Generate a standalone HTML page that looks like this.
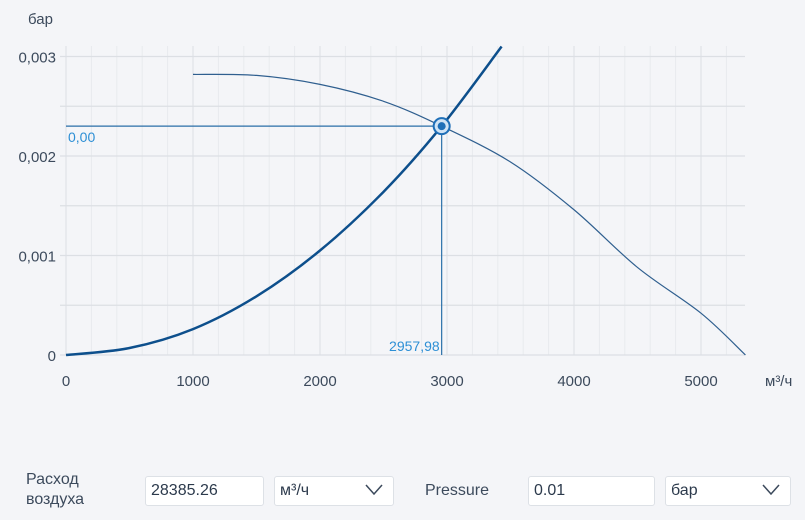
<!DOCTYPE html>
<html><head><meta charset="utf-8"><style>
body{margin:0;background:#f4f5f8;font-family:"Liberation Sans",sans-serif;width:805px;height:520px;overflow:hidden;position:relative}
.lbl{position:absolute;color:#3c4a5c;font-size:16px}
.inp{position:absolute;background:#fff;border:1px solid #dde1e6;border-radius:3px;height:30px;box-sizing:border-box;font-size:16px;color:#2c3a4c;line-height:28px;padding-left:5px}
.chev{position:absolute;right:10px;top:7px}
</style></head><body>
<svg id="chart" width="805" height="460" style="position:absolute;left:0;top:0" font-family="Liberation Sans, sans-serif"></svg>
<div class="lbl" style="left:26px;top:470px;line-height:20px">Расход<br>воздуха</div>
<div class="inp" style="left:145px;top:476px;width:119px">28385.26</div>
<div class="inp" style="left:274px;top:476px;width:120px">м³/ч<svg class="chev" width="18" height="12"><path d="M1 1L9 10L17 1" fill="none" stroke="#3c4a5c" stroke-width="1.5"/></svg></div>
<div class="lbl" style="left:425px;top:482px">Pressure</div>
<div class="inp" style="left:528px;top:476px;width:127px">0.01</div>
<div class="inp" style="left:665px;top:476px;width:126px">бар<svg class="chev" width="18" height="12"><path d="M1 1L9 10L17 1" fill="none" stroke="#3c4a5c" stroke-width="1.5"/></svg></div>
<script>
const xTicks=[0,1000,2000,3000,4000,5000];
const yTicks=[0,0.001,0.002,0.003];
const yTickLabels=["0","0,001","0,002","0,003"];
const fanX=[1000,1500,2000,2500,2958,3500,4000,4500,5000,5350];
const fanY=[0.00282,0.00281,0.00272,0.00255,0.0023,0.00194,0.00146,0.00088,0.00042,0];
const sysX=[0,500,1000,1500,2000,2500,2958,3430];
const sysY=[0,0.00007,0.00026,0.00059,0.00105,0.00164,0.0023,0.0031];
const opX=2957.98, opY=0.0023;
const NS="http://www.w3.org/2000/svg";
const svg=document.getElementById('chart');
const X=v=>66+v*0.127, Y=v=>355-v*99500;
function el(t,a,p){const e=document.createElementNS(NS,t);for(const k in a)e.setAttribute(k,a[k]);(p||svg).appendChild(e);return e;}
for(let v=0;v<=5350;v+=200){const g=el('line',{x1:X(v),x2:X(v),y1:46,y2:355,stroke:v%1000?'#e8eaee':'#dcdfe4','stroke-width':1});
}
for(let v=0;v<=0.0031;v+=0.0005){const g=el('line',{x1:60,x2:745,y1:Y(v),y2:Y(v),stroke:'#dcdfe4','stroke-width':1.2});
}
xTicks.forEach(v=>{const t=el('text',{x:X(v),y:386,'text-anchor':'middle','font-size':15,fill:'#3c4a5c'});t.textContent=v;
});
yTicks.forEach((v,i)=>{const t=el('text',{x:56,y:Y(v)+6,'text-anchor':'end','font-size':15,fill:'#3c4a5c'});t.textContent=yTickLabels[i];
});
let t=el('text',{x:28,y:24,'font-size':15,fill:'#3c4a5c'});t.textContent='бар';
t=el('text',{x:765,y:386,'font-size':15,fill:'#3c4a5c'});t.textContent='м³/ч';
function smooth(xs,ys){const p=xs.map((x,i)=>[X(x),Y(ys[i])]);let d='M'+p[0][0]+' '+p[0][1];
for(let i=0;i<p.length-1;i++){const p0=p[i-1]||p[i],p1=p[i],p2=p[i+1],p3=p[i+2]||p2;
d+=`C${p1[0]+(p2[0]-p0[0])/6} ${p1[1]+(p2[1]-p0[1])/6} ${p2[0]-(p3[0]-p1[0])/6} ${p2[1]-(p3[1]-p1[1])/6} ${p2[0]} ${p2[1]}`;}return d;}
let f=el('path',{d:smooth(fanX,fanY),fill:'none',stroke:'#2f5f8f','stroke-width':1.2});
let s=el('path',{d:smooth(sysX,sysY),fill:'none',stroke:'#0d4f8c','stroke-width':2.5});
let h=el('line',{x1:X(0),x2:X(opX),y1:Y(opY),y2:Y(opY),stroke:'#2a6fa8','stroke-width':1.2});
let vl=el('line',{x1:X(opX),x2:X(opX),y1:Y(opY),y2:355,stroke:'#2a6fa8','stroke-width':1.2});
t=el('text',{x:68,y:Y(opY)+16,'font-size':14,fill:'#2d8fd5'});t.textContent='0,00';
t=el('text',{x:X(opX)-2,y:351,'text-anchor':'end','font-size':14,fill:'#2d8fd5'});t.textContent='2957,98';
let c=el('circle',{cx:X(opX),cy:Y(opY),r:8,fill:'#cfe3f5',stroke:'#1e6fb8','stroke-width':2});
let c2=el('circle',{cx:X(opX),cy:Y(opY),r:4,fill:'#1e6fb8'});
</script>
</body></html>
